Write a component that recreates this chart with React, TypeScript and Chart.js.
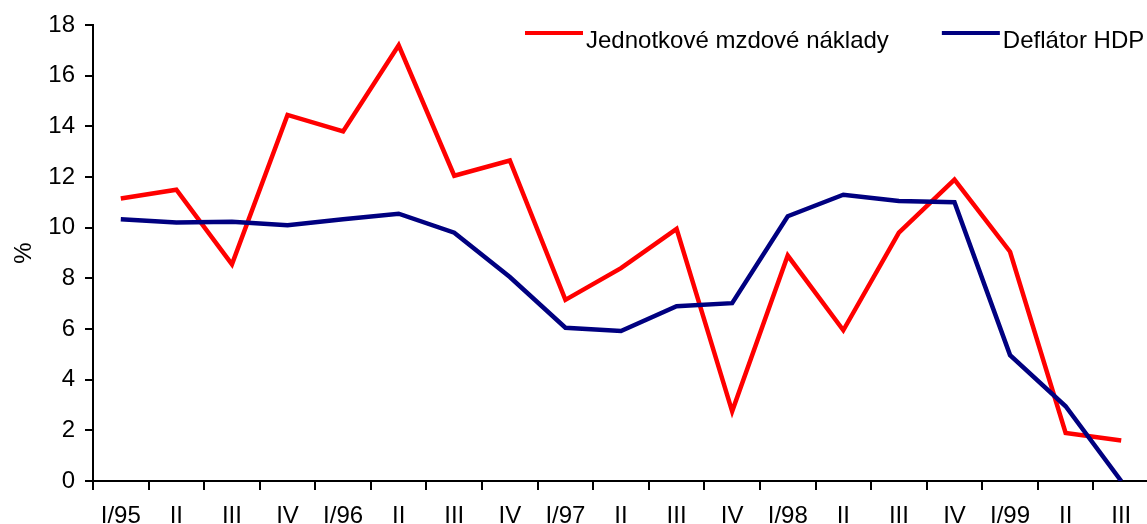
import React, { useEffect, useRef } from "react";
import { Chart, registerables } from "chart.js";

Chart.register(...registerables);

const categories = [
  "I/95", "II", "III", "IV",
  "I/96", "II", "III", "IV",
  "I/97", "II", "III", "IV",
  "I/98", "II", "III", "IV",
  "I/99", "II", "III",
];

const unitLabourCosts = [
  11.15, 11.5, 8.55, 14.45,
  13.8, 17.2, 12.05, 12.65,
  7.15, 8.4, 9.95, 2.75,
  8.9, 5.95, 9.8, 11.9,
  9.05, 1.9, 1.6,
];

const gdpDeflator = [
  10.33, 10.2, 10.23, 10.1,
  10.33, 10.55, 9.8, 8.05,
  6.05, 5.92, 6.9, 7.02,
  10.45, 11.3, 11.05, 11.0,
  4.97, 2.95, 0,
];

const seriesLabels = ["Jednotkové mzdové náklady", "Deflátor HDP"];
const yTicksMin = 0;
const yTicksMax = 18;
const yTicksStep = 2;

const FONT_FAMILY = '"Liberation Sans", Arial, Helvetica, sans-serif';

const inlineLegend = {
  id: "inlineLegend",
  afterDraw(chart: any) {
    const ctx = chart.ctx as CanvasRenderingContext2D;
    ctx.save();
    ctx.font = `24px ${FONT_FAMILY}`;
    ctx.textBaseline = "alphabetic";
    ctx.textAlign = "left";
    let x = 525;
    const lineY = 33;
    const textY = 48;
    chart.data.datasets.forEach((ds: any) => {
      ctx.strokeStyle = ds.borderColor;
      ctx.lineWidth = 4;
      ctx.lineCap = "butt";
      ctx.beginPath();
      ctx.moveTo(x, lineY);
      ctx.lineTo(x + 58, lineY);
      ctx.stroke();
      ctx.fillStyle = "#000000";
      ctx.fillText(ds.label, x + 61, textY);
      x += 61 + ctx.measureText(ds.label).width + 53;
    });
    ctx.restore();
  },
};

export default function App() {
  const canvasRef = useRef<HTMLCanvasElement | null>(null);

  useEffect(() => {
    if (!canvasRef.current) return;
    Chart.defaults.font.family = FONT_FAMILY;
    const chart = new Chart(canvasRef.current, {
      type: "line",
      data: {
        labels: categories,
        datasets: [
          {
            label: seriesLabels[0],
            data: unitLabourCosts,
            borderColor: "#FF0000",
            backgroundColor: "#FF0000",
            borderWidth: 4.5,
            pointRadius: 0,
            pointHoverRadius: 0,
            tension: 0,
            fill: false,
            borderJoinStyle: "miter",
            order: 1,
          },
          {
            label: seriesLabels[1],
            data: gdpDeflator,
            borderColor: "#000080",
            backgroundColor: "#000080",
            borderWidth: 4.5,
            pointRadius: 0,
            pointHoverRadius: 0,
            tension: 0,
            fill: false,
            borderJoinStyle: "miter",
            order: 0,
          },
        ],
      },
      options: {
        responsive: false,
        maintainAspectRatio: false,
        devicePixelRatio: 1,
        animation: false,
        events: [],
        layout: { padding: { top: 25, right: 1, left: 0, bottom: 0 } },
        plugins: {
          legend: { display: false },
          tooltip: { enabled: false },
          title: { display: false },
        },
        scales: {
          x: {
            type: "category",
            offset: true,
            ticks: {
              color: "#000000",
              font: { size: 24, family: FONT_FAMILY },
              padding: 12,
              maxRotation: 0,
              minRotation: 0,
              autoSkip: false,
            },
            grid: {
              offset: true,
              drawOnChartArea: false,
              drawTicks: true,
              tickLength: 9,
              color: "#000000",
              lineWidth: 2,
            },
            border: { display: true, color: "#000000", width: 2 },
            afterFit: (s: any) => {
              s.height = 43;
            },
          },
          y: {
            type: "linear",
            min: yTicksMin,
            max: yTicksMax,
            ticks: {
              stepSize: yTicksStep,
              color: "#000000",
              font: { size: 24, family: FONT_FAMILY },
              padding: 10,
            },
            grid: {
              drawOnChartArea: false,
              drawTicks: true,
              tickLength: 8,
              color: "#000000",
              lineWidth: 2,
            },
            border: { display: true, color: "#000000", width: 2 },
            title: {
              display: true,
              text: "%",
              color: "#000000",
              font: { size: 24, family: FONT_FAMILY },
              padding: { top: 10, bottom: 0 },
            },
            afterFit: (s: any) => {
              s.width = 93;
            },
          },
        },
      },
      plugins: [inlineLegend],
    });
    return () => {
      chart.destroy();
    };
  }, []);

  return (
    <div
      style={{
        position: "absolute",
        left: 0,
        top: 0,
        width: 1147,
        height: 524,
        overflow: "hidden",
        background: "#ffffff",
      }}
    >
      <canvas ref={canvasRef} width={1150} height={524} style={{ width: 1150, height: 524, display: "block" }} />
    </div>
  );
}
